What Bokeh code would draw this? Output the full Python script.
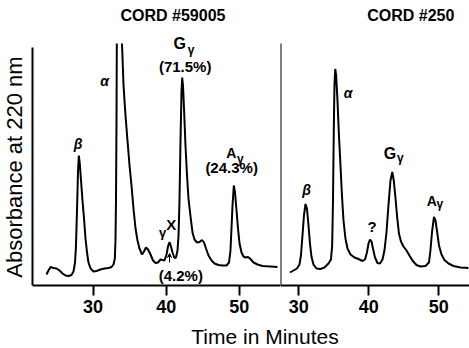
from math import pi
from bokeh.plotting import figure
from bokeh.models import Range1d, FixedTicker, Label, Arrow, VeeHead
from bokeh.layouts import row, column
from bokeh.embed import file_html
from bokeh.resources import INLINE

NAN = float("nan")  # the alpha peak of CORD #59005 runs off the top of the chart paper

# ---------------- data ----------------
panel_titles = ["CORD #59005", "CORD #250"]
tick_minutes = [30, 40, 50]

cord59005_time = [23.64, 23.91, 24.19, 24.60, 25.01, 25.42, 25.83, 26.24, 26.65, 27.06,
                  27.33, 27.54, 27.67, 27.81, 27.95, 28.06, 28.19, 28.36, 28.56, 28.77,
                  28.97, 29.18, 29.38, 29.66, 30.07, 30.48, 31.02, 31.57, 32.12, 32.53,
                  32.80, 32.98, 33.07, 33.14, 33.21, 33.25, 33.52, 33.96, 34.17, 34.44,
                  34.71, 34.99, 35.26, 35.53, 35.81, 36.08, 36.35, 36.70, 36.97, 37.24,
                  37.52, 37.86, 38.20, 38.54, 38.88, 39.22, 39.50, 39.77, 40.05, 40.25,
                  40.46, 40.66, 40.87, 41.14, 41.34, 41.55, 41.69, 41.82, 41.96, 42.10,
                  42.19, 42.30, 42.44, 42.64, 42.85, 43.05, 43.33, 43.60, 43.87, 44.21,
                  44.56, 44.90, 45.17, 45.45, 45.79, 46.20, 46.61, 47.15, 47.70, 48.25,
                  48.59, 48.79, 48.93, 49.07, 49.25, 49.41, 49.62, 49.82, 50.03, 50.30,
                  50.57, 50.85, 51.19, 51.53, 51.94, 52.49, 53.17, 54.26, 55.22]
cord59005_abs = [0.11, 0.15, 0.185, 0.175, 0.17, 0.15, 0.12, 0.10, 0.095, 0.105,
                 0.14, 0.23, 0.40, 0.75, 1.15, 1.30, 1.22, 1.05, 0.85, 0.67,
                 0.47, 0.33, 0.23, 0.17, 0.14, 0.145, 0.16, 0.17, 0.175, 0.185,
                 0.21, 0.27, 0.45, 0.85, 1.65, 2.42, NAN, 2.42, 2.00, 1.70,
                 1.45, 1.20, 1.00, 0.77, 0.57, 0.45, 0.37, 0.31, 0.34, 0.38,
                 0.36, 0.31, 0.25, 0.225, 0.23, 0.26, 0.255, 0.25, 0.31, 0.39,
                 0.435, 0.39, 0.33, 0.275, 0.28, 0.35, 0.50, 0.85, 1.45, 1.95,
                 2.08, 2.00, 1.77, 1.40, 1.10, 0.87, 0.69, 0.53, 0.46, 0.43,
                 0.435, 0.455, 0.43, 0.37, 0.30, 0.25, 0.22, 0.205, 0.20, 0.20,
                 0.23, 0.35, 0.57, 0.80, 1.00, 0.93, 0.75, 0.57, 0.42, 0.33,
                 0.29, 0.28, 0.285, 0.265, 0.23, 0.21, 0.195, 0.19, 0.185]

cord250_time = [28.74, 29.24, 29.74, 30.10, 30.31, 30.53, 30.74, 30.96, 31.17, 31.39,
                31.60, 31.81, 32.10, 32.53, 33.10, 33.67, 34.24, 34.60, 34.77, 34.89,
                35.00, 35.10, 35.21, 35.34, 35.53, 35.74, 35.96, 36.17, 36.39, 36.67,
                36.96, 37.39, 37.96, 38.53, 39.10, 39.46, 39.74, 39.96, 40.17, 40.39,
                40.60, 40.89, 41.24, 41.60, 41.96, 42.24, 42.53, 42.81, 43.10, 43.36,
                43.57, 43.81, 44.06, 44.31, 44.60, 44.96, 45.39, 45.81, 46.24, 46.81,
                47.39, 48.10, 48.60, 48.81, 49.03, 49.31, 49.53, 49.74, 50.03, 50.39,
                50.81, 51.39, 52.10, 53.10, 54.24]
cord250_abs = [0.13, 0.15, 0.17, 0.21, 0.30, 0.50, 0.70, 0.815, 0.77, 0.60,
               0.42, 0.29, 0.21, 0.17, 0.165, 0.18, 0.22, 0.26, 0.40, 0.85,
               1.55, 2.00, 2.165, 2.10, 1.85, 1.50, 1.20, 0.90, 0.65, 0.47,
               0.37, 0.31, 0.28, 0.265, 0.245, 0.26, 0.33, 0.42, 0.46, 0.44,
               0.37, 0.28, 0.225, 0.22, 0.26, 0.35, 0.53, 0.80, 1.05, 1.135,
               1.05, 0.88, 0.68, 0.52, 0.44, 0.39, 0.35, 0.30, 0.25, 0.205,
               0.19, 0.195, 0.23, 0.35, 0.53, 0.685, 0.65, 0.55, 0.40, 0.31,
               0.255, 0.22, 0.195, 0.18, 0.175]

FONT = "Liberation Sans"
Y_TOP = 2.85          # top of the page area (titles live up here)
CHART_TOP = 2.42      # top edge of the recorder chart


def make_panel(width, x_start, x_end, axis_x, axis_top, x_bounds):
    p = figure(width=width, height=322,
               x_range=Range1d(x_start, x_end), y_range=Range1d(0, Y_TOP),
               output_backend="svg", toolbar_location=None,
               min_border_left=0, min_border_right=0,
               min_border_top=0, min_border_bottom=37)
    p.outline_line_color = None
    p.grid.visible = False
    p.background_fill_color = "white"
    p.border_fill_color = "white"
    ax = p.xaxis[0]
    ax.ticker = FixedTicker(ticks=tick_minutes)
    ax.bounds = x_bounds
    ax.major_tick_out = 10
    ax.major_tick_in = 0
    ax.minor_tick_line_color = None
    ax.axis_line_width = 2
    ax.major_tick_line_width = 2
    ax.axis_line_color = "black"
    ax.major_tick_line_color = "black"
    ax.major_label_text_font = FONT
    ax.major_label_text_font_size = "18px"
    ax.major_label_text_font_style = "bold"
    ax.major_label_text_color = "black"
    ax.major_label_standoff = 4
    ay = p.yaxis[0]
    ay.ticker = FixedTicker(ticks=[])
    ay.fixed_location = axis_x
    ay.bounds = (0, axis_top)
    ay.major_tick_out = 0
    ay.major_tick_in = 0
    ay.minor_tick_line_color = None
    ay.major_label_standoff = 0
    ay.axis_line_width = 2
    ay.axis_line_color = "black"
    return p


def lab(p, x, y, text, size, style="bold", angle=0.0):
    p.add_layout(Label(x=x, y=y, text=text, text_font=FONT,
                       text_font_size=f"{size}px", text_font_style=style,
                       text_color="black", text_align="center",
                       text_baseline="middle", angle=angle))


# ---------------- left panel ----------------
p1 = make_panel(280, 17.35, 55.63, 21.73, 2.38, (21.73, 55.63))
p1.line(cord59005_time, cord59005_abs, line_color="black", line_width=2)
lab(p1, 40.93, 2.70, panel_titles[0], 16)
lab(p1, 19.33, 1.185, "Absorbance at 220 nm", 22, "normal", pi / 2)
lab(p1, 27.97, 1.42, "β", 14, "bold italic")
lab(p1, 31.57, 2.05, "α", 14, "bold italic")
lab(p1, 41.85, 2.417, "G", 16)
lab(p1, 43.39, 2.36, "γ", 12)
lab(p1, 42.60, 2.19, "(71.5%)", 15)
lab(p1, 48.90, 1.325, "A", 14)
lab(p1, 50.13, 1.27, "γ", 12)
lab(p1, 48.95, 1.18, "(24.3%)", 15)
lab(p1, 39.53, 0.533, "γ", 13)
lab(p1, 40.70, 0.615, "X", 15)
lab(p1, 42.00, 0.10, "(4.2%)", 15)
p1.add_layout(Arrow(end=VeeHead(size=4, line_color="black", line_width=1),
                    x_start=40.46, y_start=0.23, x_end=40.46, y_end=0.32,
                    line_color="black", line_width=1))

# ---------------- right panel ----------------
p2 = make_panel(189, 27.39, 54.39, 27.39, CHART_TOP, (27.39, 54.39))
p2.line(cord250_time, cord250_abs, line_color="black", line_width=2)
lab(p2, 46.0, 2.70, panel_titles[1], 16)
lab(p2, 31.10, 0.96, "β", 14, "bold italic")
lab(p2, 37.03, 1.925, "α", 14, "bold italic")
lab(p2, 40.46, 0.59, "?", 15)
lab(p2, 43.03, 1.325, "G", 16)
lab(p2, 44.50, 1.275, "γ", 12)
lab(p2, 48.99, 0.85, "A", 14)
lab(p2, 50.17, 0.82, "γ", 12)

# ---------------- shared x-axis title ----------------
p3 = figure(width=469, height=26, x_range=Range1d(0, 1), y_range=Range1d(0, 1),
            x_axis_type=None, y_axis_type=None, output_backend="svg",
            toolbar_location=None, min_border=0)
p3.outline_line_color = None
p3.grid.visible = False
p3.add_layout(Label(x=264.5 / 469, y=0.46, text="Time in Minutes", text_font=FONT,
                    text_font_size="21px", text_color="black",
                    text_align="center", text_baseline="middle"))

layout = column(row(p1, p2), p3)
open("out.html", "w").write(file_html(layout, INLINE))
